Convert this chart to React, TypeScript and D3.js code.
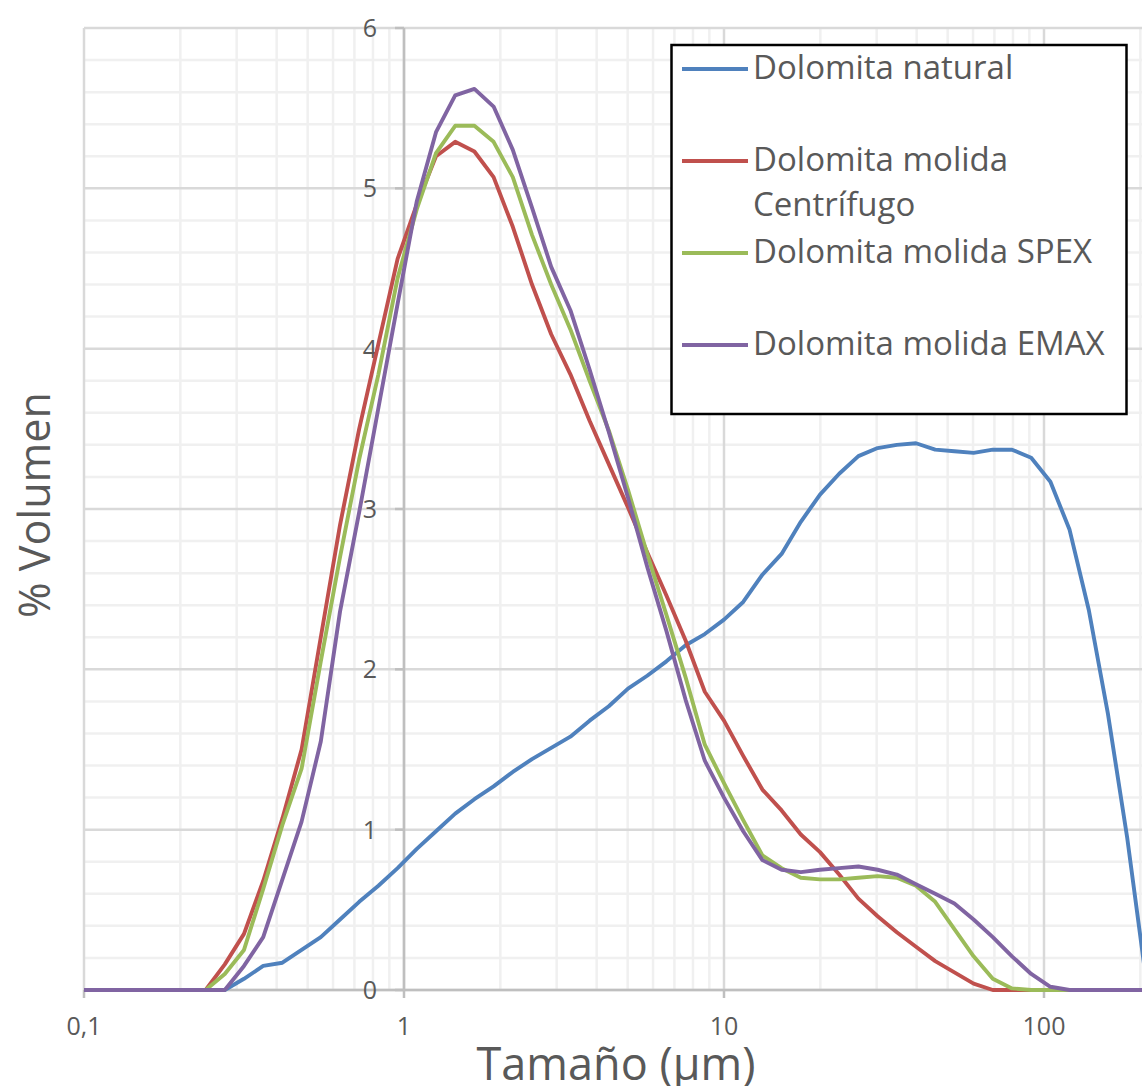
import React from "react";
import * as d3 from "d3";

// Particle size classes (µm)
const sizes = [
  0.0912, 0.1047, 0.1202, 0.138, 0.1585, 0.182, 0.2089, 0.2399, 0.2754, 0.3162,
  0.3631, 0.4169, 0.4786, 0.5495, 0.631, 0.7244, 0.8318, 0.955, 1.0965, 1.2589,
  1.4454, 1.6596, 1.9055, 2.1878, 2.5119, 2.884, 3.3113, 3.8019, 4.3652, 5.0119,
  5.7544, 6.6069, 7.5858, 8.7096, 10.0, 11.4815, 13.1826, 15.1356, 17.378, 19.9526,
  22.9087, 26.3027, 30.1995, 34.6737, 39.8107, 45.7088, 52.4807, 60.256, 69.1831, 79.4328,
  91.2011, 104.7129, 120.2264, 138.0384, 158.4893, 181.9701, 208.9296,
];

const natural = [
  0, 0, 0, 0, 0, 0, 0, 0, 0, 0.07,
  0.15, 0.17, 0.25, 0.33, 0.44, 0.55, 0.65, 0.76, 0.88, 0.99,
  1.1, 1.19, 1.27, 1.36, 1.44, 1.51, 1.58, 1.68, 1.77, 1.88,
  1.96, 2.05, 2.15, 2.22, 2.31, 2.42, 2.59, 2.72, 2.92, 3.09,
  3.22, 3.33, 3.38, 3.4, 3.41, 3.37, 3.36, 3.35, 3.37, 3.37,
  3.32, 3.17, 2.87, 2.37, 1.72, 0.95, 0.05,
];

const centrifugo = [
  0, 0, 0, 0, 0, 0, 0, 0, 0.16, 0.35,
  0.68, 1.07, 1.5, 2.2, 2.9, 3.5, 4.03, 4.56, 4.9, 5.2,
  5.29, 5.23, 5.07, 4.76, 4.4, 4.09, 3.84, 3.55, 3.28, 3.01,
  2.73, 2.46, 2.18, 1.86, 1.68, 1.46, 1.25, 1.12, 0.97, 0.86,
  0.72, 0.57, 0.46, 0.36, 0.27, 0.18, 0.11, 0.04, 0, 0,
  0, 0, 0, 0, 0, 0, 0,
];

const spex = [
  0, 0, 0, 0, 0, 0, 0, 0, 0.1, 0.25,
  0.63, 1.03, 1.38, 2.05, 2.7, 3.31, 3.84, 4.44, 4.87, 5.22,
  5.39, 5.39, 5.29, 5.07, 4.71, 4.4, 4.12, 3.8, 3.49, 3.12,
  2.72, 2.34, 1.95, 1.53, 1.29, 1.06, 0.84, 0.76, 0.7, 0.69,
  0.69, 0.7, 0.71, 0.7, 0.65, 0.55, 0.38, 0.21, 0.07, 0.01,
  0, 0, 0, 0, 0, 0, 0,
];

const emax = [
  0, 0, 0, 0, 0, 0, 0, 0, 0, 0.15,
  0.33, 0.69, 1.05, 1.55, 2.36, 2.98, 3.63, 4.28, 4.92, 5.35,
  5.58, 5.62, 5.51, 5.24, 4.88, 4.51, 4.24, 3.87, 3.48, 3.07,
  2.64, 2.24, 1.81, 1.43, 1.2, 0.99, 0.81, 0.75, 0.735, 0.75,
  0.76, 0.77, 0.75, 0.72, 0.66, 0.6, 0.54, 0.44, 0.33, 0.21,
  0.1, 0.02, 0, 0, 0, 0, 0,
];

const seriesNames = [
  ["Dolomita natural"],
  ["Dolomita molida", "Centrífugo"],
  ["Dolomita molida SPEX"],
  ["Dolomita molida EMAX"],
];
const seriesColors = ["#4F81BD", "#C0504D", "#9BBB59", "#8064A2"];
const seriesValues = [natural, centrifugo, spex, emax];

const xTickValues = [0.1, 1, 10, 100];
const xTickLabels = ["0,1", "1", "10", "100"];
const yTickValues = [0, 1, 2, 3, 4, 5, 6];

const W = 1142;
const H = 1086;
const left = 84;
const right = 1142;
const top = 28;
const bottom = 990;
const FONT = "'Open Sans', 'DejaVu Sans', sans-serif";

export default function App() {
  const xMax = Math.pow(10, (right - left) / 320 - 1);
  const x = d3.scaleLog().domain([0.1, xMax]).range([left, right]);
  const y = d3.scaleLinear().domain([0, 6]).range([bottom, top]);

  const minorY = d3.range(0, 30).map((i) => i * 0.2).filter((v, i) => i % 5 !== 0);
  const minorX: number[] = [];
  [0.1, 1, 10, 100].forEach((d) => {
    for (let m = 2; m <= 9; m++) {
      const v = m * d;
      if (v <= xMax + 1e-9) minorX.push(v);
    }
  });

  const line = d3
    .line<number>()
    .x((_, i) => x(sizes[i]))
    .y((v) => y(v));

  const legendLineY = [69, 161, 253, 345];

  return (
    <div style={{ position: "absolute", left: 0, top: 0 }}>
      <svg width={W} height={H} style={{ display: "block", background: "#fff" }}>
        <defs>
          <clipPath id="plot">
            <rect x={left} y={top - 4} width={right - left} height={bottom - top + 8} />
          </clipPath>
        </defs>
        {/* minor gridlines */}
        {minorY.map((v) => (
          <line key={"my" + v} x1={left} x2={right} y1={y(v)} y2={y(v)} stroke="#f0f0f0" strokeWidth={2.5} />
        ))}
        {minorX.map((v) => (
          <line key={"mx" + v} x1={x(v)} x2={x(v)} y1={top} y2={bottom} stroke="#f0f0f0" strokeWidth={2.5} />
        ))}
        {/* major gridlines */}
        {yTickValues.map((v) => (
          <line key={"gy" + v} x1={left} x2={right} y1={y(v)} y2={y(v)} stroke="#d9d9d9" strokeWidth={2.5} />
        ))}
        {xTickValues.map((v) => (
          <line key={"gx" + v} x1={x(v)} x2={x(v)} y1={top} y2={bottom} stroke="#d9d9d9" strokeWidth={2.5} />
        ))}
        {/* axes */}
        <line x1={x(1)} x2={x(1)} y1={top} y2={bottom} stroke="#bfbfbf" strokeWidth={2.5} />
        <line x1={left} x2={right} y1={bottom} y2={bottom} stroke="#bfbfbf" strokeWidth={2.5} />
        {yTickValues.map((v) => (
          <line key={"ty" + v} x1={x(1) - 9} x2={x(1)} y1={y(v)} y2={y(v)} stroke="#bfbfbf" strokeWidth={2.5} />
        ))}
        {xTickValues.map((v) => (
          <line key={"tx" + v} x1={x(v)} x2={x(v)} y1={bottom} y2={bottom + 8} stroke="#bfbfbf" strokeWidth={2.5} />
        ))}
        {/* tick labels */}
        {yTickValues.map((v) => (
          <text key={"ly" + v} x={x(1) - 27} y={y(v)} dy="0.36em" textAnchor="end" fontFamily={FONT} fontSize={25} fill="#595959">
            {v}
          </text>
        ))}
        {xTickValues.map((v, i) => (
          <text key={"lx" + v} x={x(v)} y={1035} textAnchor="middle" fontFamily={FONT} fontSize={25} fill="#595959">
            {xTickLabels[i]}
          </text>
        ))}
        {/* series */}
        <g clipPath="url(#plot)">
          {seriesValues.map((vals, i) => (
            <path key={"s" + i} d={line(vals) || ""} fill="none" stroke={seriesColors[i]} strokeWidth={3.9} strokeLinejoin="round" strokeLinecap="round" />
          ))}
        </g>
        {/* axis titles */}
        <text x={616} y={1080} textAnchor="middle" fontFamily={FONT} fontSize={45} fill="#595959">
          Tamaño (µm)
        </text>
        <text transform="translate(50,505) rotate(-90)" textAnchor="middle" fontFamily={FONT} fontSize={43} fill="#595959">
          % Volumen
        </text>
        {/* legend */}
        <rect x={671.5} y={45} width={455} height={369} fill="#fff" stroke="#000" strokeWidth={2.5} />
        {seriesNames.map((name, i) => (
          <g key={"lg" + i}>
            <line x1={682} x2={748} y1={legendLineY[i]} y2={legendLineY[i]} stroke={seriesColors[i]} strokeWidth={3.9} />
            {name.map((t, j) => (
              <text key={j} x={753} y={legendLineY[i] + 9.5 + j * 45} fontFamily={FONT} fontSize={33} fill="#595959">
                {t}
              </text>
            ))}
          </g>
        ))}
      </svg>
    </div>
  );
}
